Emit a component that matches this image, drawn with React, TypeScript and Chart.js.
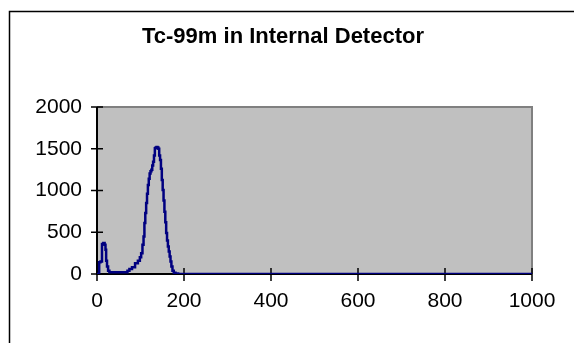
import React, { useEffect, useRef } from "react";
import { Chart, registerables } from "chart.js";

Chart.register(...registerables);

const TITLE = "Tc-99m in Internal Detector";
const channels = [
  0, 4, 6, 10, 13, 16, 19, 20, 22, 24, 27, 30, 40, 50, 60, 68, 72, 77, 84, 91, 97,
  100, 103, 106, 108, 110, 112, 114, 116, 118, 120, 122, 124, 126, 128, 130, 132,
  134, 136, 138, 140, 142, 144, 146, 148, 150, 152, 154, 156, 158, 160, 162, 164,
  166, 168, 170, 172, 175, 178, 183, 190, 300, 500, 700, 900, 1000,
];
const counts = [
  0, 0, 140, 150, 360, 370, 350, 290, 160, 90, 40, 20, 20, 20, 20, 20, 40, 60, 80,
  128, 160, 200, 250, 350, 450, 610, 730, 850, 960, 1065, 1140, 1205, 1230, 1250,
  1300, 1345, 1420, 1505, 1515, 1520, 1515, 1500, 1420, 1365, 1260, 1125, 1005, 880,
  746, 620, 490, 400, 330, 270, 210, 150, 90, 40, 15, 5, 0, 0, 0, 0, 0, 0,
];
const xTicks = [0, 200, 400, 600, 800, 1000];
const yTicks = [0, 500, 1000, 1500, 2000];

const FONT = "'Liberation Sans', Arial, sans-serif";

export default function App() {
  const ref = useRef<HTMLCanvasElement>(null);
  useEffect(() => {
    if (!ref.current) return;
    const frame = {
      id: "frame",
      beforeDraw(chart: any) {
        const { ctx, chartArea: a } = chart;
        ctx.save();
        ctx.fillStyle = "#ffffff";
        ctx.fillRect(0, 0, chart.width, chart.height);
        ctx.strokeStyle = "#000000";
        ctx.lineWidth = 1.5;
        ctx.beginPath();
        ctx.moveTo(9.5, chart.height + 5);
        ctx.lineTo(9.5, 11.5);
        ctx.lineTo(chart.width + 5, 11.5);
        ctx.stroke();
        ctx.fillStyle = "#C0C0C0";
        ctx.fillRect(a.left, a.top, a.right - a.left, a.bottom - a.top);
        ctx.strokeStyle = "#808080";
        ctx.lineWidth = 2;
        ctx.beginPath();
        ctx.moveTo(a.left, a.top);
        ctx.lineTo(a.right, a.top);
        ctx.lineTo(a.right, a.bottom);
        ctx.stroke();
        const xs = chart.scales.x;
        const ys = chart.scales.y;
        ctx.strokeStyle = "#000000";
        ctx.lineWidth = 2;
        ctx.beginPath();
        ctx.moveTo(a.left, a.top);
        ctx.lineTo(a.left, a.bottom);
        ctx.lineTo(a.right, a.bottom);
        ctx.stroke();
        ctx.lineWidth = 1.5;
        ctx.beginPath();
        yTicks.forEach((v) => {
          const y = ys.getPixelForValue(v);
          ctx.moveTo(a.left - 6, y);
          ctx.lineTo(a.left + 6, y);
        });
        xTicks.forEach((v) => {
          const x = xs.getPixelForValue(v);
          ctx.moveTo(x, a.bottom - 6);
          ctx.lineTo(x, a.bottom + 7);
        });
        ctx.stroke();
        ctx.fillStyle = "#000000";
        ctx.font = `bold 22px ${FONT}`;
        ctx.textAlign = "center";
        ctx.textBaseline = "middle";
        ctx.fillText(TITLE, 283, 37);
        ctx.restore();
      },
    };
    const chart = new Chart(ref.current, {
      type: "scatter",
      data: {
        datasets: [
          {
            data: channels.map((c, i) => ({ x: c, y: counts[i] })),
            showLine: true,
            borderColor: "#000080",
            borderWidth: 2.5,
            pointRadius: 0,
            tension: 0,
            stepped: "middle",
            fill: false,
          },
        ],
      },
      plugins: [frame],
      options: {
        responsive: false,
        animation: false,
        layout: { padding: { left: 0, top: 107, right: 42, bottom: 0 } },
        plugins: { legend: { display: false }, tooltip: { enabled: false } },
        scales: {
          x: {
            type: "linear",
            min: 0,
            max: 1000,
            afterFit: (s: any) => { s.height = 69; },
            afterBuildTicks: (s: any) => { s.ticks = xTicks.map((v) => ({ value: v })); },
            grid: { display: false, drawTicks: false },
            border: { display: false },
            ticks: {
              color: "#000",
              font: { family: FONT, size: 21 },
              padding: 15,
              maxRotation: 0,
              callback: (v: any) => String(v),
            },
          },
          y: {
            type: "linear",
            min: 0,
            max: 2000,
            afterFit: (s: any) => { s.width = 97; },
            afterBuildTicks: (s: any) => { s.ticks = yTicks.map((v) => ({ value: v })); },
            grid: { display: false, drawTicks: false },
            border: { display: false },
            ticks: {
              color: "#000",
              font: { family: FONT, size: 21 },
              padding: 15,
              callback: (v: any) => String(v),
            },
          },
        },
      },
    });
    return () => chart.destroy();
  }, []);
  return (
    <canvas
      ref={ref}
      width={574}
      height={343}
      style={{ position: "absolute", left: 0, top: 0, width: 574, height: 343 }}
    />
  );
}
